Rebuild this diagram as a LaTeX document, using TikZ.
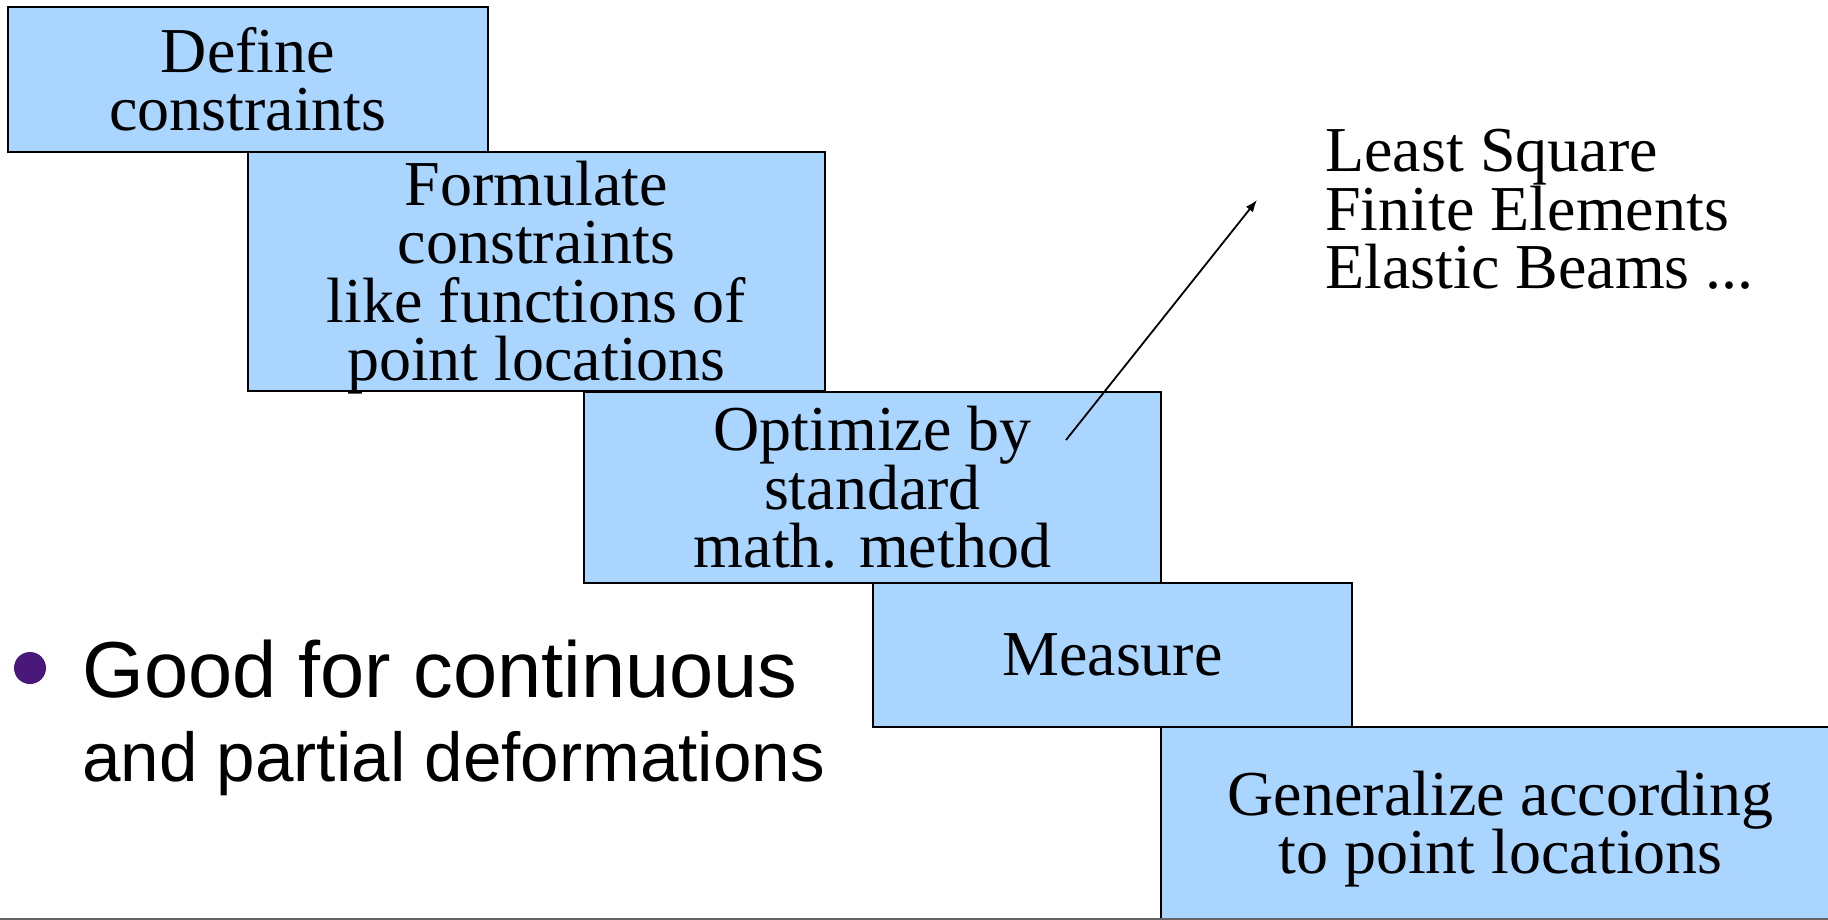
\documentclass[tikz,border=0pt]{standalone}
\usepackage{fontspec}
\setmainfont{Liberation Serif}
\newfontfamily\bulletfont{Liberation Sans}
\usetikzlibrary{arrows.meta}
\definecolor{boxblue}{RGB}{170,213,255}
\definecolor{bulletpurple}{RGB}{74,23,122}
\definecolor{rulegray}{RGB}{100,100,100}
\begin{document}
\begin{tikzpicture}[x=0.5pt,y=-0.5pt,
  stepbox/.style={draw=black, line width=0.8pt, fill=boxblue, rectangle, inner sep=0pt,
    align=center, font=\fontsize{32}{29.25}\selectfont},
  boxtext/.style={inner sep=0pt, align=center, font=\fontsize{32}{29.25}\selectfont},
  listtext/.style={anchor=base west, inner sep=0pt, font=\fontsize{32}{29.25}\selectfont},
  bullettext/.style={anchor=base west, inner sep=0pt},
  pointer/.style={line width=0.9pt, -{Latex[length=6pt,width=4.5pt]}}]
\useasboundingbox (0,0) rectangle (1828,920);
\node[stepbox, minimum width=240pt, minimum height=72.5pt] (b1) at (248,79.5) {Define\\constraints};
\node[stepbox, minimum width=288.5pt, minimum height=119.5pt] (b2) at (536.5,271.5) {};
\node[boxtext, yshift=-3pt] (t2) at (b2.center) {Formulate\\constraints\\like functions of\\point locations};
\node[stepbox, minimum width=288.5pt, minimum height=95.5pt] (b3) at (872.5,487.5) {Optimize by\\standard\\math. method};
\node[stepbox, minimum width=239.5pt, minimum height=72pt] (b4) at (1112.5,655) {Measure};
\node[stepbox, minimum width=339.5pt, minimum height=102pt] (b5) at (1500.5,829) {Generalize according\\to point locations};
\coordinate (as) at (1066,440);
\coordinate (ae) at (1257,200);
\draw[pointer] (as) -- (ae);
\node[listtext] (l1) at (1325,172) {Least Square};
\node[listtext] (l2) at (1325,230) {Finite Elements};
\node[listtext] (l3) at (1325,288) {Elastic Beams ...};
\fill[bulletpurple] (30,668) circle[radius=8pt];
\node[bullettext, font=\bulletfont\fontsize{39.7}{48}\selectfont] (g1) at (82,697) {Good for continuous};
\node[bullettext, font=\bulletfont\fontsize{34.6}{42}\selectfont] (g2) at (82,781) {and partial deformations};
\draw[rulegray, line width=1.2pt] (0,919) -- (1828,919);
\end{tikzpicture}
\end{document}
